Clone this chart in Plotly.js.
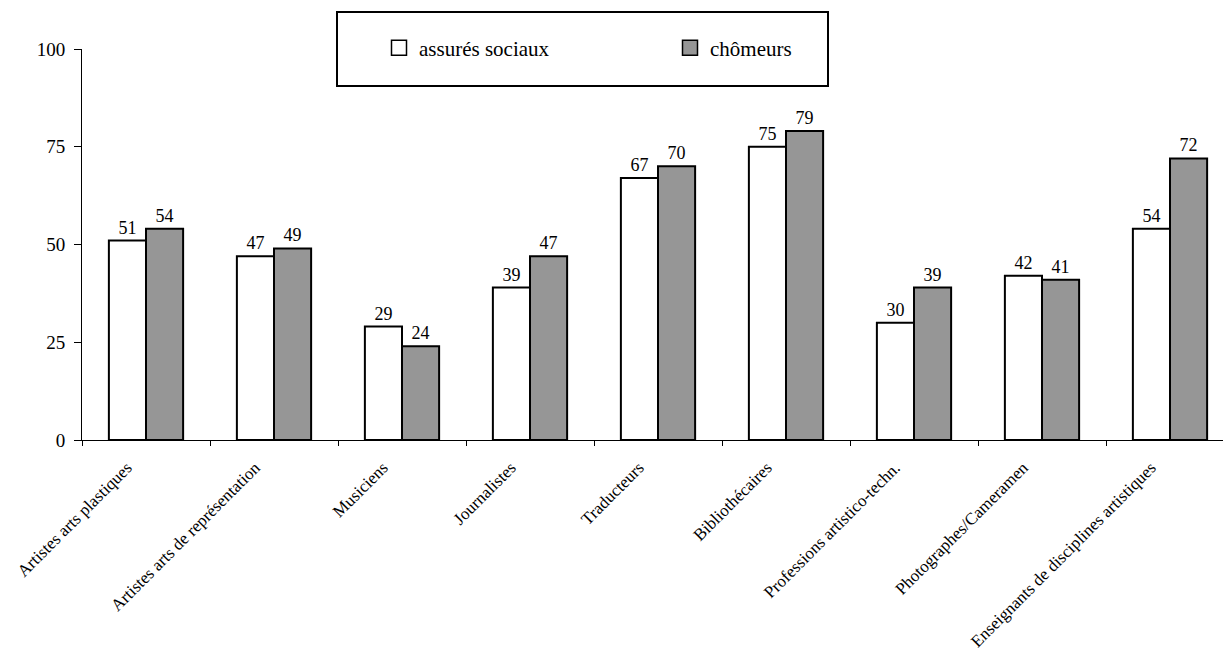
<!DOCTYPE html>
<html>
<head>
<meta charset="utf-8">
<script src="https://cdn.plot.ly/plotly-3.0.1.min.js"></script>
<style>html,body{margin:0;padding:0;background:#fff;}#chart{width:1223px;height:655px;}</style>
</head>
<body>
<div id="chart"></div>
<script>
const categories = ["Artistes arts plastiques", "Artistes arts de représentation", "Musiciens", "Journalistes", "Traducteurs", "Bibliothécaires", "Professions artistico-techn.", "Photographes/Cameramen", "Enseignants de disciplines artistiques"];
const assures = [51, 47, 29, 39, 67, 75, 30, 42, 54];
const chomeurs = [54, 49, 24, 47, 70, 79, 39, 41, 72];
const seriesNames = ["assurés sociaux", "chômeurs"];
const seriesColors = ["#ffffff", "#969696"];
const yTicks = [0, 25, 50, 75, 100];

const font = "Liberation Serif";
const values = [assures, chomeurs];
const traces = values.map((v, i) => ({
  type: "bar", name: seriesNames[i], x: categories, y: v, text: v.map(String), showlegend: false,
  textposition: "outside", cliponaxis: false, textfont: {family: font, size: 18, color: "#000"},
  marker: {color: seriesColors[i], line: {color: "#000", width: 2}}
}));
// legend entries with larger square symbols
seriesNames.forEach((n, i) => traces.push({
  type: "scatter", mode: "markers", name: n, x: [null], y: [null], showlegend: true,
  marker: {symbol: "square", size: 15, color: seriesColors[i], line: {color: "#000", width: 1.5}}
}));
const layout = {
  width: 1223, height: 655,
  margin: {l: 82, r: 0, t: 49, b: 215},
  paper_bgcolor: "#fff", plot_bgcolor: "#fff",
  font: {family: font, color: "#000", size: 16},
  barmode: "group", bargap: 0.42, bargroupgap: 0,
  showlegend: true,
  legend: {orientation: "h", x: (379 - 82) / 1141, xanchor: "left", y: 1 + (49 - 48) / 391, yanchor: "middle",
           font: {family: font, size: 21, color: "#000"}, bgcolor: "rgba(0,0,0,0)", borderwidth: 0,
           entrywidth: 246, entrywidthmode: "pixels", itemsizing: "trace", itemwidth: 30},
  shapes: [{type: "rect", xref: "paper", yref: "paper", x0: (337 - 82) / 1141, x1: (828 - 82) / 1141,
            y0: 1 - (86 - 49) / 391, y1: 1 + (49 - 12) / 391, line: {color: "#000", width: 2}, fillcolor: "rgba(0,0,0,0)"}],
  xaxis: {type: "category", range: [-0.5, -0.5 + 1141 / 128], showline: true, linecolor: "#000", linewidth: 1,
          ticks: "outside", tickson: "boundaries", ticklen: 5, tickcolor: "#000", tickangle: -45,
          ticklabelshift: -19, ticklabelstandoff: 10,
          tickfont: {family: font, size: 17, color: "#000"}, showgrid: false, zeroline: false, fixedrange: true},
  yaxis: {range: [0, 100], tickvals: yTicks, ticktext: yTicks.map(String), showline: true, linecolor: "#000", linewidth: 1,
          ticks: "outside", ticklen: 7, tickcolor: "#000", ticklabelstandoff: 5,
          tickfont: {family: font, size: 19, color: "#000"},
          showgrid: false, zeroline: false}
};
Plotly.newPlot("chart", traces, layout, {displayModeBar: false, staticPlot: true});
</script>
</body>
</html>
